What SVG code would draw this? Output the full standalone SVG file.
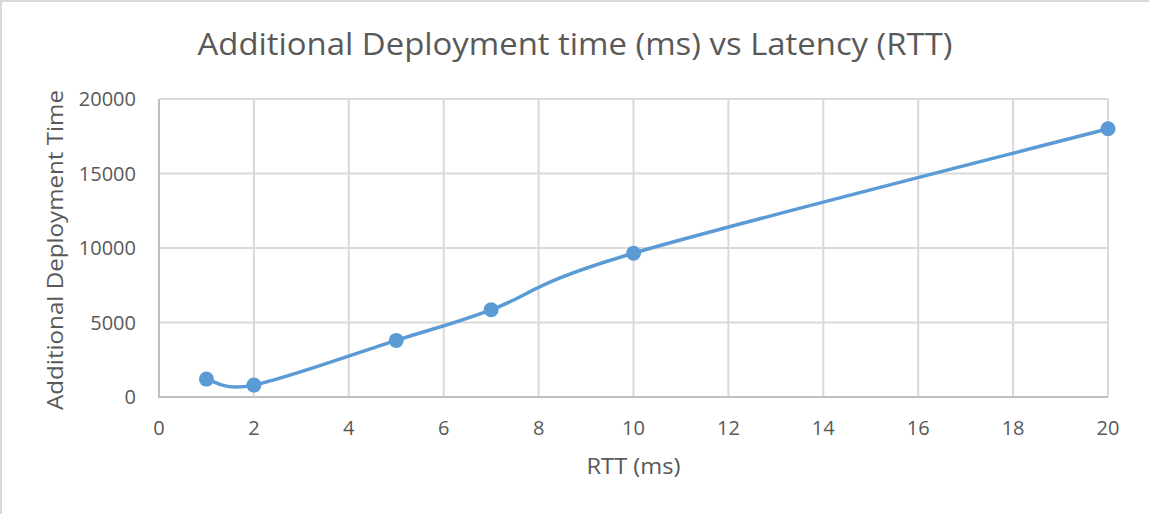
<svg xmlns="http://www.w3.org/2000/svg" width="1149" height="514" viewBox="0 0 1149 514">
  <style>
    .txt { font-family: "Open Sans", "Liberation Sans", sans-serif; fill: #595959; }
    .tick { font-size: 20px; }
    .grid line { stroke: #d9d9d9; stroke-width: 2; }
    .axis { stroke: #bfbfbf; stroke-width: 2; fill: none; }
    .series { stroke: #5b9bd5; stroke-width: 3.5; fill: none; stroke-linecap: round; }
    .pt { fill: #5b9bd5; }
  </style>
  <defs>
    <circle id="marker" r="7.5" class="pt"/>
  </defs>

  <!-- chart background and frame -->
  <rect x="0" y="0" width="1149" height="514" fill="#ffffff"/>
  <rect x="1" y="1" width="1160" height="530" fill="none" stroke="#d9d9d9" stroke-width="2"/>

  <!-- title -->
  <text class="txt" x="575" y="55" font-size="31" text-anchor="middle" textLength="755" lengthAdjust="spacingAndGlyphs">Additional Deployment time (ms) vs Latency (RTT)</text>

  <!-- gridlines -->
  <g class="grid">
    <line x1="159" y1="99" x2="1108" y2="99"/>
    <line x1="159" y1="173.5" x2="1108" y2="173.5"/>
    <line x1="159" y1="248" x2="1108" y2="248"/>
    <line x1="159" y1="322.5" x2="1108" y2="322.5"/>
    <line x1="253.9" y1="99" x2="253.9" y2="397"/>
    <line x1="348.8" y1="99" x2="348.8" y2="397"/>
    <line x1="443.7" y1="99" x2="443.7" y2="397"/>
    <line x1="538.6" y1="99" x2="538.6" y2="397"/>
    <line x1="633.5" y1="99" x2="633.5" y2="397"/>
    <line x1="728.4" y1="99" x2="728.4" y2="397"/>
    <line x1="823.3" y1="99" x2="823.3" y2="397"/>
    <line x1="918.2" y1="99" x2="918.2" y2="397"/>
    <line x1="1013.1" y1="99" x2="1013.1" y2="397"/>
    <line x1="1108" y1="99" x2="1108" y2="397"/>
  </g>

  <!-- axes -->
  <path class="axis" d="M159 99 V397 H1108"/>

  <!-- y tick labels -->
  <g class="txt tick" text-anchor="end">
    <text x="136" y="106">20000</text>
    <text x="136" y="180.5">15000</text>
    <text x="136" y="255">10000</text>
    <text x="136" y="329.5">5000</text>
    <text x="136" y="404">0</text>
  </g>

  <!-- x tick labels -->
  <g class="txt tick" text-anchor="middle">
    <text x="159" y="435">0</text>
    <text x="253.9" y="435">2</text>
    <text x="348.8" y="435">4</text>
    <text x="443.7" y="435">6</text>
    <text x="538.6" y="435">8</text>
    <text x="633.5" y="435">10</text>
    <text x="728.4" y="435">12</text>
    <text x="823.3" y="435">14</text>
    <text x="918.2" y="435">16</text>
    <text x="1013.1" y="435">18</text>
    <text x="1108" y="435">20</text>
  </g>

  <!-- axis titles -->
  <text class="txt" x="633.5" y="474" font-size="21" text-anchor="middle" textLength="94" lengthAdjust="spacingAndGlyphs">RTT (ms)</text>
  <text class="txt" transform="translate(63 250) rotate(-90)" font-size="22" text-anchor="middle" textLength="320" lengthAdjust="spacingAndGlyphs">Additional Deployment Time</text>

  <!-- data series -->
  <g id="series">
    <path class="series" d="M206.45 379.1 C214.36 380.1 222.27 391.55 253.9 385.1 C285.53 378.65 356.71 352.95 396.25 340.4 C435.79 327.85 451.61 324.33 491.15 309.8 C530.69 295.27 530.69 283.37 633.5 253.2 C736.31 223.03 1028.92 149.53 1108 128.8"/>
    <use href="#marker" x="206.45" y="379.1"/>
    <use href="#marker" x="253.9" y="385.1"/>
    <use href="#marker" x="396.25" y="340.4"/>
    <use href="#marker" x="491.15" y="309.8"/>
    <use href="#marker" x="633.5" y="253.2"/>
    <use href="#marker" x="1108" y="128.8"/>
  </g>
</svg>
